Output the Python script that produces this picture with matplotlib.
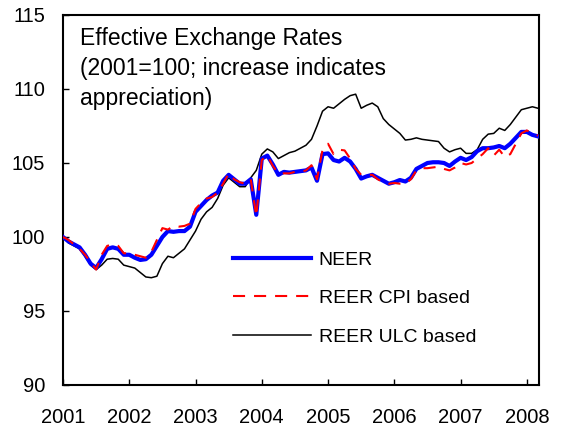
import matplotlib
matplotlib.use("Agg")
import matplotlib.pyplot as plt
import numpy as np

plt.rcParams['font.family'] = ['Liberation Sans', 'DejaVu Sans']

# Monthly data, Jan 2001 - Mar 2008
neer = [100.0, 99.7, 99.5, 99.3, 98.8, 98.2, 97.9, 98.5, 99.2, 99.3, 99.2, 98.8,
        98.8, 98.6, 98.45, 98.5, 98.8, 99.4, 100.0, 100.4, 100.35, 100.4, 100.4, 100.7,
        101.7, 102.1, 102.5, 102.8, 103.0, 103.8, 104.2, 103.9, 103.6, 103.6, 103.9, 101.5,
        105.3, 105.5, 104.9, 104.2, 104.4, 104.35, 104.4, 104.45, 104.5, 104.7, 103.8, 105.6,
        105.65, 105.2, 105.1, 105.35, 105.1, 104.6, 103.95, 104.1, 104.2, 104.0, 103.8, 103.6,
        103.7, 103.85, 103.75, 104.0, 104.6, 104.8, 105.0, 105.05, 105.05, 105.0, 104.8, 105.1,
        105.35, 105.2, 105.4, 105.8, 106.0, 106.0, 106.05, 106.15, 106.0, 106.3, 106.7, 107.1,
        107.1, 106.9, 106.8]
reer_cpi = [100.0, 99.8, 99.5, 99.2, 98.8, 98.3, 97.8, 98.8, 99.4, 99.5, 99.4, 98.9,
            98.9, 98.8, 98.7, 98.6, 99.0, 99.8, 100.6, 100.5, 100.75, 100.7, 100.75, 100.9,
            101.9, 102.3, 102.6, 102.7, 103.0, 103.6, 104.3, 103.9, 103.7, 103.6, 103.9, 101.4,
            105.2, 105.5, 104.8, 104.3, 104.3, 104.3, 104.4, 104.4, 104.5, 104.85, 103.9, 105.9,
            106.3, 105.6, 105.9, 105.85, 105.3, 104.6, 104.2, 104.2, 104.2, 103.9, 103.7, 103.6,
            103.65, 103.6, 103.6, 103.9, 104.5, 104.65, 104.65, 104.7, 104.75, 104.6, 104.5, 104.7,
            105.0, 104.9, 105.0, 105.3, 105.6, 106.0, 105.5, 105.9, 105.4, 105.6, 106.3, 107.0,
            107.2, 107.0, 106.85]
reer_ulc = [100.0, 99.6, 99.4, 99.2, 98.7, 98.1, 97.8, 98.1, 98.5, 98.55, 98.5, 98.1,
            98.0, 97.9, 97.6, 97.3, 97.25, 97.35, 98.2, 98.7, 98.6, 98.9, 99.2, 99.8,
            100.4, 101.2, 101.7, 102.0, 102.6, 103.5, 104.0, 103.7, 103.4, 103.4, 104.0, 104.5,
            105.6, 105.95, 105.75, 105.3, 105.5, 105.7, 105.8, 106.0, 106.2, 106.6, 107.5, 108.5,
            108.8, 108.7, 109.0, 109.3, 109.55, 109.65, 108.7, 108.9, 109.05, 108.8, 108.0, 107.6,
            107.3, 107.0, 106.55, 106.6, 106.7, 106.6, 106.55, 106.5, 106.45, 106.0, 105.75, 105.9,
            106.0, 105.65, 105.65, 105.9, 106.6, 106.95, 107.0, 107.35, 107.2, 107.6, 108.1, 108.6,
            108.7, 108.8, 108.7]
years = ['2001', '2002', '2003', '2004', '2005', '2006', '2007', '2008']
series_labels = ['NEER', 'REER CPI based', 'REER ULC based']
title_text = "Effective Exchange Rates\n(2001=100; increase indicates\nappreciation)"

months = np.arange(len(neer))

fig = plt.figure(figsize=(5.62, 4.29), dpi=100)
ax = fig.add_axes([63/562, 1 - 385/429, (539 - 63)/562, (385 - 15)/429])

ax.plot(months, neer, color='#0000FF', lw=3.0, label=series_labels[0], zorder=3)
ax.plot(months, reer_cpi, color='#FF0000', lw=1.5, dashes=(5.8, 4.3), label=series_labels[1], zorder=4)
ax.plot(months, reer_ulc, color='black', lw=1.1, label=series_labels[2], zorder=2)

ax.set_xlim(0, 86.2)
ax.set_ylim(90, 115)
ax.set_yticks([90, 95, 100, 105, 110, 115])
ax.set_xticks(np.arange(0, 85, 12))
ax.set_xticklabels(years)

for s in ax.spines.values():
    s.set_linewidth(1.5)
ax.tick_params(axis='both', direction='in', length=4.3, width=1.0, labelsize=14.5,
               top=False, right=False)
ax.tick_params(axis='y', pad=13)
ax.tick_params(axis='x', pad=16.5)

ax.text(80/562, 1 - 27/429, title_text, transform=fig.transFigure, fontsize=16.5,
        va='top', ha='left', linespacing=1.38)

leg = ax.legend(loc='upper left', bbox_to_anchor=(233/562, 1 - 251/429),
                bbox_transform=fig.transFigure, frameon=False, fontsize=14,
                borderpad=0, borderaxespad=0, handlelength=4.0, handletextpad=0.4,
                labelspacing=1.08)

fig.savefig('out.png', dpi=100)
